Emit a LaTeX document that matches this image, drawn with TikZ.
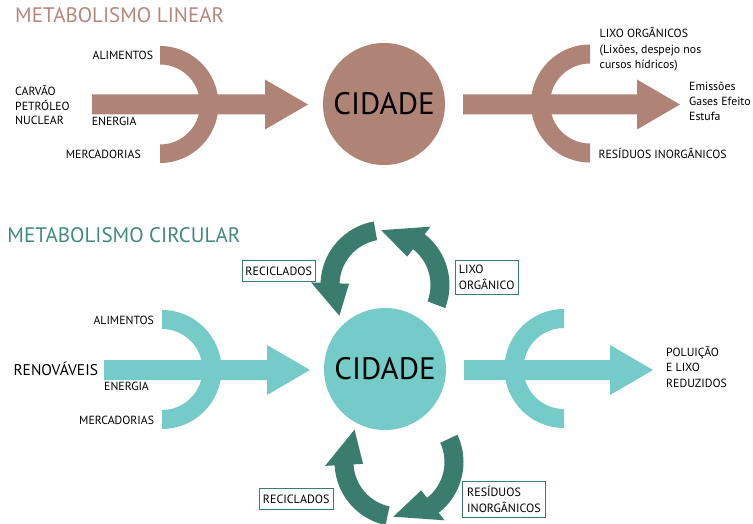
\documentclass[tikz,border=0pt]{standalone}
\usepackage{fontspec}
\setmainfont{PT Sans}
\usetikzlibrary{calc}
\definecolor{brn}{HTML}{B08377}
\definecolor{brntitle}{HTML}{B5877C}
\definecolor{lteal}{HTML}{74CBC7}
\definecolor{dteal}{HTML}{3A7D6F}
\definecolor{tealtitle}{HTML}{3E8B7C}
\newcommand{\cyclearrow}[4]{%
  \fill[dteal] ($(#1)+(#2:64.5)$) arc[start angle=#2,end angle=#3,radius=64.5]
    -- ($(#1)+(#3:74)$) -- ($(#1)+(#4:55)$) -- ($(#1)+(#3:36)$)
    -- ($(#1)+(#3:45.5)$) arc[start angle=#3,end angle=#2,radius=45.5] -- cycle;}
\newcommand{\fatarrow}[3]{%
  \fill[#3] ($(#1)+(0,-10)$) -- ($(#2)+(-43,-10)$) -- ($(#2)+(-43,-25)$) -- (#2)
    -- ($(#2)+(-43,25)$) -- ($(#2)+(-43,10)$) -- ($(#1)+(0,10)$) -- cycle;}
\begin{document}
\begin{tikzpicture}[x=1pt,y=-1pt,
  lbl/.style={anchor=base west, inner sep=0pt, font=\fontsize{11.8}{13}\selectfont},
  ttl/.style={anchor=base west, inner sep=0pt, font=\fontsize{21}{24}\selectfont},
  city/.style={circle, inner sep=0pt, minimum size=122pt, font=\fontsize{31}{34}\selectfont},
  tagbox/.style={draw=dteal, line width=0.9pt, fill=white, inner sep=0pt, align=left,
    font=\fontsize{12}{15.5}\selectfont}]
\useasboundingbox (0,0) rectangle (753,524);

% ---------- linear ----------
\node[ttl, text=brntitle] (t1) at (15,22.8) {METABOLISMO LINEAR};

\coordinate (rA) at (160,104.5);
\fill[brn] ($(rA)+(-90:58.5)$) arc[start angle=-90,end angle=90,radius=58.5]
  -- ($(rA)+(90:40)$) arc[start angle=90,end angle=-90,radius=40] -- cycle;
\coordinate (inA) at (92,104.5);
\coordinate (tipA) at (308,104.5);
\fatarrow{inA}{tipA}{brn}

\node[city, fill=brn] (cityA) at (384,104) {CIDADE};

\coordinate (rB) at (590,103.5);
\fill[brn] ($(rB)+(-90:59)$) arc[start angle=-90,end angle=-270,radius=59]
  -- ($(rB)+(90:40)$) arc[start angle=90,end angle=270,radius=40] -- cycle;
\coordinate (inB) at (463,104.5);
\coordinate (tipB) at (680,104.5);
\fatarrow{inB}{tipB}{brn}

\node[lbl] (a1) at (92.5,60) {ALIMENTOS};
\node[lbl] (c1) at (15,96) {CARVÃO};
\node[lbl] (c2) at (15,110.7) {PETRÓLEO};
\node[lbl] (c3) at (15,125) {NUCLEAR};
\node[lbl] (e1) at (91.7,125.3) {ENERGIA};
\node[lbl] (m1) at (65.7,159) {MERCADORIAS};
\node[lbl] (l1) at (599.5,38) {LIXO ORGÂNICOS};
\node[lbl] (l2) at (599.5,53.5) {(Lixões, despejo nos};
\node[lbl] (l3) at (599.5,69) {cursos hídricos)};
\node[lbl] (g1) at (689,91) {Emissões};
\node[lbl] (g2) at (689,106) {Gases Efeito};
\node[lbl] (g3) at (689,121) {Estufa};
\node[lbl] (r1) at (598.3,159) {RESÍDUOS INORGÂNICOS};

% ---------- circular ----------
\node[ttl, text=tealtitle] (t2) at (7.3,242) {METABOLISMO CIRCULAR};

\coordinate (rC) at (162,369.5);
\fill[lteal] ($(rC)+(-90:59.5)$) arc[start angle=-90,end angle=90,radius=59.5]
  -- ($(rC)+(90:40.5)$) arc[start angle=90,end angle=-90,radius=40.5] -- cycle;
\coordinate (inC) at (104,370);
\coordinate (tipC) at (310,370);
\fatarrow{inC}{tipC}{lteal}

\node[city, fill=lteal] (cityB) at (385,369) {CIDADE};

\coordinate (rD) at (564,368.5);
\fill[lteal] ($(rD)+(-90:59.5)$) arc[start angle=-90,end angle=-270,radius=59.5]
  -- ($(rD)+(90:40.5)$) arc[start angle=90,end angle=270,radius=40.5] -- cycle;
\coordinate (inD) at (464,370);
\coordinate (tipD) at (653,370);
\fatarrow{inD}{tipD}{lteal}

\coordinate (cyTop) at (385,285);
\cyclearrow{cyTop}{-100}{-178}{-214}
\cyclearrow{cyTop}{21}{-52}{-94}
\coordinate (cyBot) at (399,462);
\cyclearrow{cyBot}{-258}{-183}{-144}
\cyclearrow{cyBot}{-25}{52}{96}

\node[lbl] (a2) at (93.3,324.5) {ALIMENTOS};
\node[lbl, font=\fontsize{15.5}{18}\selectfont] (rn) at (13.3,375.6) {RENOVÁVEIS};
\node[lbl] (e2) at (104,390.5) {ENERGIA};
\node[lbl] (m2) at (79,424) {MERCADORIAS};
\node[lbl] (p1) at (666,356) {POLUIÇÃO};
\node[lbl] (p2) at (666,371.5) {E LIXO};
\node[lbl] (p3) at (666,387) {REDUZIDOS};

\node[tagbox, minimum width=73pt, minimum height=21pt] (rec1) at (278.7,271.3) {RECICLADOS};
\node[tagbox, minimum width=63.3pt, minimum height=33.3pt] (lixo) at (486.7,277.4) {LIXO\\ORGÂNICO};
\node[tagbox, minimum width=74.3pt, minimum height=21pt] (rec2) at (296.2,498.8) {RECICLADOS};
\node[tagbox, minimum width=82.3pt, minimum height=36.3pt] (resid) at (503.9,499.2) {RESÍDUOS\\INORGÂNICOS};
\end{tikzpicture}
\end{document}
